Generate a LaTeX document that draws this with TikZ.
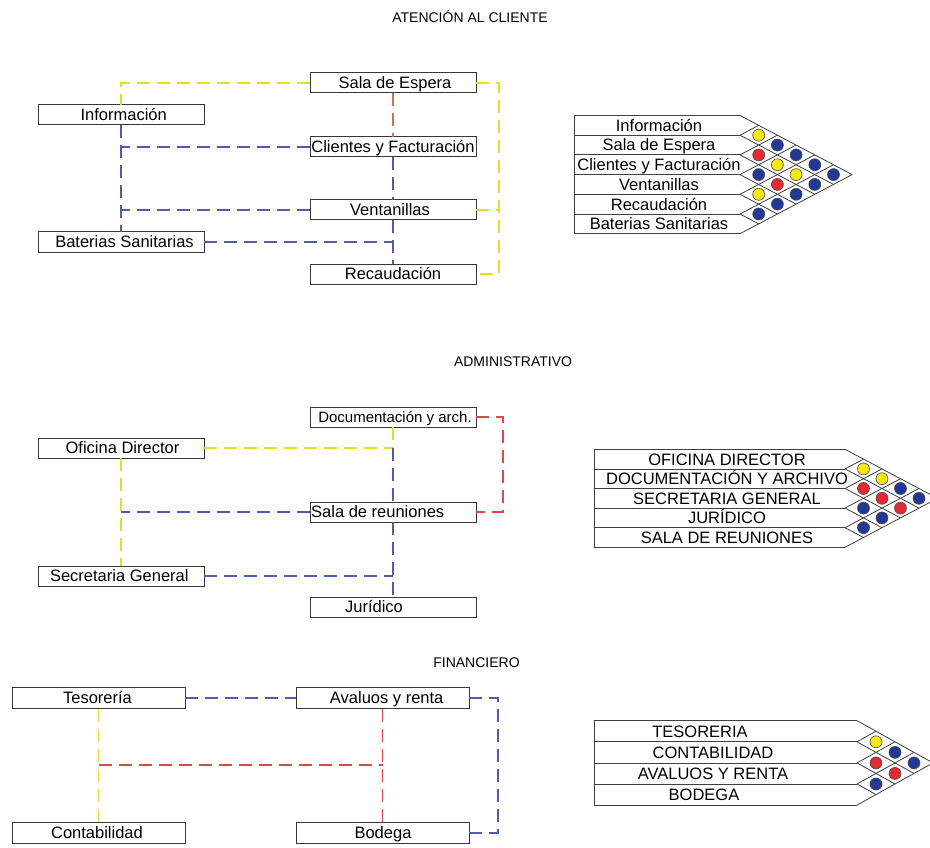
\documentclass[tikz,border=0pt]{standalone}
\usepackage{fontspec}
\setmainfont{Liberation Sans}
\definecolor{boxgray}{RGB}{55,55,55}
\definecolor{lnyel}{RGB}{232,218,40}
\definecolor{lnblu}{RGB}{80,92,175}
\definecolor{lnred}{RGB}{226,70,70}
\definecolor{lnbrn}{RGB}{212,110,90}
\definecolor{cyel}{RGB}{245,230,20}
\definecolor{cblu}{RGB}{35,55,150}
\definecolor{cred}{RGB}{230,40,50}
\newcommand\relmatrix[6]{%
  % #1 xL, #2 x0, #3 yT, #4 h, #5 d, #6 n
  \pgfmathtruncatemacro\rmn{#6}%
  \pgfmathtruncatemacro\rmm{#6-1}%
  \foreach \k in {0,...,\rmn}{\draw[matline] (#1,{#3+\k*#4}) -- (#2,{#3+\k*#4});}
  \draw[matline] (#1,#3) -- (#1,{#3+#6*#4});
  \foreach \k in {0,...,\rmm}{\draw[matline] (#2,{#3+\k*#4}) -- ({#2+(#6-\k)*#5},{#3+\k*#4+(#6-\k)*#4/2});}
  \foreach \k in {1,...,\rmn}{\draw[matline] (#2,{#3+\k*#4}) -- ({#2+\k*#5},{#3+\k*#4-\k*#4/2});}
}
\tikzset{
  box/.style={draw=boxgray, line width=1pt, minimum width=166pt, minimum height=20pt, inner sep=0pt, outer sep=0pt, fill=white},
  fbox/.style={box, minimum width=173pt, minimum height=21pt},
  lbl/.style={inner sep=0pt, text height=11.8pt, text depth=0pt, font=\fontsize{16.5}{18}\selectfont},
  slbl/.style={inner sep=0pt, text height=10.7pt, text depth=0pt, font=\fontsize{15}{17}\selectfont},
  ttl/.style={inner sep=0pt, text height=10pt, text depth=0pt, font=\fontsize{14}{16}\selectfont},
  conn/.style={line width=1.25pt, dash pattern=on 13pt off 7pt},
  ly/.style={conn, draw=lnyel},
  lb/.style={conn, draw=lnblu},
  lr/.style={conn, draw=lnred},
  lbr/.style={conn, draw=lnbrn},
  matline/.style={draw=black!75, line width=0.8pt},
  dot/.style={draw=black!70, line width=0.6pt},
}
\begin{document}
\begin{tikzpicture}[x=1pt,y=-1pt]
\useasboundingbox (0,0) rectangle (930,848);
\fill[white] (0,0) rectangle (930,848);
\clip (0,0) rectangle (930,848);

% ---------- titles
\node[ttl] (t1) at (470,17.7) {ATENCIÓN AL CLIENTE};
\node[ttl] (t2) at (513,361.3) {ADMINISTRATIVO};
\node[ttl] (t3) at (476.5,662.5) {FINANCIERO};

% ---------- section 1
\node[box] (espera) at (393,83) {};
\node[box] (info) at (121,115) {};
\node[box] (cli) at (393,147) {};
\node[box] (vent) at (393,210) {};
\node[box] (bat) at (121,242) {};
\node[box] (recaud) at (393,274) {};
\node[lbl] (lespera) at (395,83) {Sala de Espera};
\node[lbl] (linfo) at (123.7,115) {Información};
\node[lbl] (lcli) at (393,147) {Clientes y Facturación};
\node[lbl] (lvent) at (390,210) {Ventanillas};
\node[lbl] (lbat) at (124.5,242) {Baterias Sanitarias};
\node[lbl] (lrecaud) at (393,274) {Recaudación};

\coordinate (yx) at (499,0);
\draw[ly] (espera.west) -| (info.north);
\draw[ly] (espera.east) -- (espera.east -| yx) |- (recaud.east);
\draw[ly] (vent.east) -- (vent.east -| yx);
\draw[lbr] (espera.south) -- (cli.north);
\draw[lb] (info.south) -- (bat.north);
\draw[lb] (cli.west) -- (cli.west -| info.south);
\draw[lb] (vent.west) -- (vent.west -| info.south);
\draw[lb] (cli.south) -- (vent.north);
\draw[lb] (vent.south) -- (recaud.north);
\draw[lb] (bat.east) -- (bat.east -| vent.south);

% ---------- section 2
\node[box] (doc) at (393,417) {};
\node[box] (ofi) at (121,448) {};
\node[box] (sala) at (393,512) {};
\node[box] (sec) at (121,576) {};
\node[box] (jur) at (393,607) {};
\node[slbl] (ldoc) at (395,417) {Documentación y arch.};
\node[lbl] (lofi) at (122.5,448) {Oficina Director};
\node[lbl, anchor=west] (lsala) at (311,512) {Sala de reuniones};
\node[lbl] (lsec) at (119.3,576) {Secretaria General};
\node[lbl] (ljur) at (374,607) {Jurídico};

\coordinate (j1) at (ofi.east -| doc.south);
\coordinate (rx) at (503,0);
\draw[ly] (ofi.east) -- (j1);
\draw[ly] (doc.south) -- (j1);
\draw[lb] (j1) -- (sala.north);
\draw[ly] (ofi.south) -- (sec.north);
\draw[lb] (sala.west) -- (sala.west -| ofi.south);
\draw[lr] (doc.east) -- (doc.east -| rx) |- (sala.east);
\draw[lb] (sec.east) -- (sec.east -| sala.south);
\draw[lb] (sala.south) -- (jur.north);

% ---------- section 3
\node[fbox] (tes) at (98.7,698) {};
\node[fbox] (aval) at (382.7,698) {};
\node[fbox] (cont) at (98.7,833) {};
\node[fbox] (bod) at (382.7,833) {};
\node[lbl] (ltes) at (97.5,698) {Tesorería};
\node[lbl] (laval) at (386.7,698) {Avaluos y renta};
\node[lbl] (lcont) at (97,833) {Contabilidad};
\node[lbl] (lbod) at (383,833) {Bodega};

\coordinate (bx) at (498,0);
\coordinate (mid) at (0,765);
\draw[lb] (tes.east) -- (aval.west);
\draw[lb] (aval.east) -- (aval.east -| bx) |- (bod.east);
\draw[ly] (tes.south) -- (cont.north);
\draw[lr] (aval.south) -- (bod.north);
\draw[lr] (tes.south |- mid) -- (aval.south |- mid);

% ---------- matrix 1
\relmatrix{574}{740}{115.5}{19.7}{18.7}{6}
\foreach \i/\j/\c in {1/2/cyel,2/3/cred,3/4/cblu,4/5/cyel,5/6/cblu,
  1/3/cblu,2/4/cyel,3/5/cred,4/6/cblu,
  1/4/cblu,2/5/cyel,3/6/cblu,
  1/5/cblu,2/6/cblu,
  1/6/cblu}
  {\filldraw[dot, fill=\c] ({740+(\j-\i)*18.7},{115.5+(\i+\j-1)*19.7/2}) circle (6pt);}
\foreach \t [count=\r] in {Información,Sala de Espera,Clientes y Facturación,Ventanillas,Recaudación,Baterias Sanitarias}
  {\node[lbl] (m1r\r) at (659,{115.5+(\r-0.5)*19.7}) {\t};}

% ---------- matrix 2
\relmatrix{594}{845}{449.3}{19.6}{18.5}{5}
\foreach \i/\j/\c in {1/2/cyel,2/3/cred,3/4/cblu,4/5/cblu,
  1/3/cyel,2/4/cred,3/5/cblu,
  1/4/cblu,2/5/cred,
  1/5/cblu}
  {\filldraw[dot, fill=\c] ({845+(\j-\i)*18.5},{449.3+(\i+\j-1)*19.6/2}) circle (6pt);}
\foreach \t [count=\r] in {OFICINA DIRECTOR,DOCUMENTACIÓN Y ARCHIVO,SECRETARIA GENERAL,JURÍDICO,SALA DE REUNIONES}
  {\node[lbl] (m2r\r) at (727,{449.3+(\r-0.5)*19.6}) {\t};}

% ---------- matrix 3
\relmatrix{594}{857}{720.7}{21.1}{19}{4}
\foreach \i/\j/\c in {1/2/cyel,2/3/cred,3/4/cblu,
  1/3/cblu,2/4/cred,
  1/4/cblu}
  {\filldraw[dot, fill=\c] ({857+(\j-\i)*19},{720.7+(\i+\j-1)*21.1/2}) circle (6pt);}
\node[lbl] (m3r1) at (700,{720.7+0.5*21.1}) {TESORERIA};
\node[lbl] (m3r2) at (713,{720.7+1.5*21.1}) {CONTABILIDAD};
\node[lbl] (m3r3) at (713,{720.7+2.5*21.1}) {AVALUOS Y RENTA};
\node[lbl] (m3r4) at (704,{720.7+3.5*21.1}) {BODEGA};
\end{tikzpicture}
\end{document}
